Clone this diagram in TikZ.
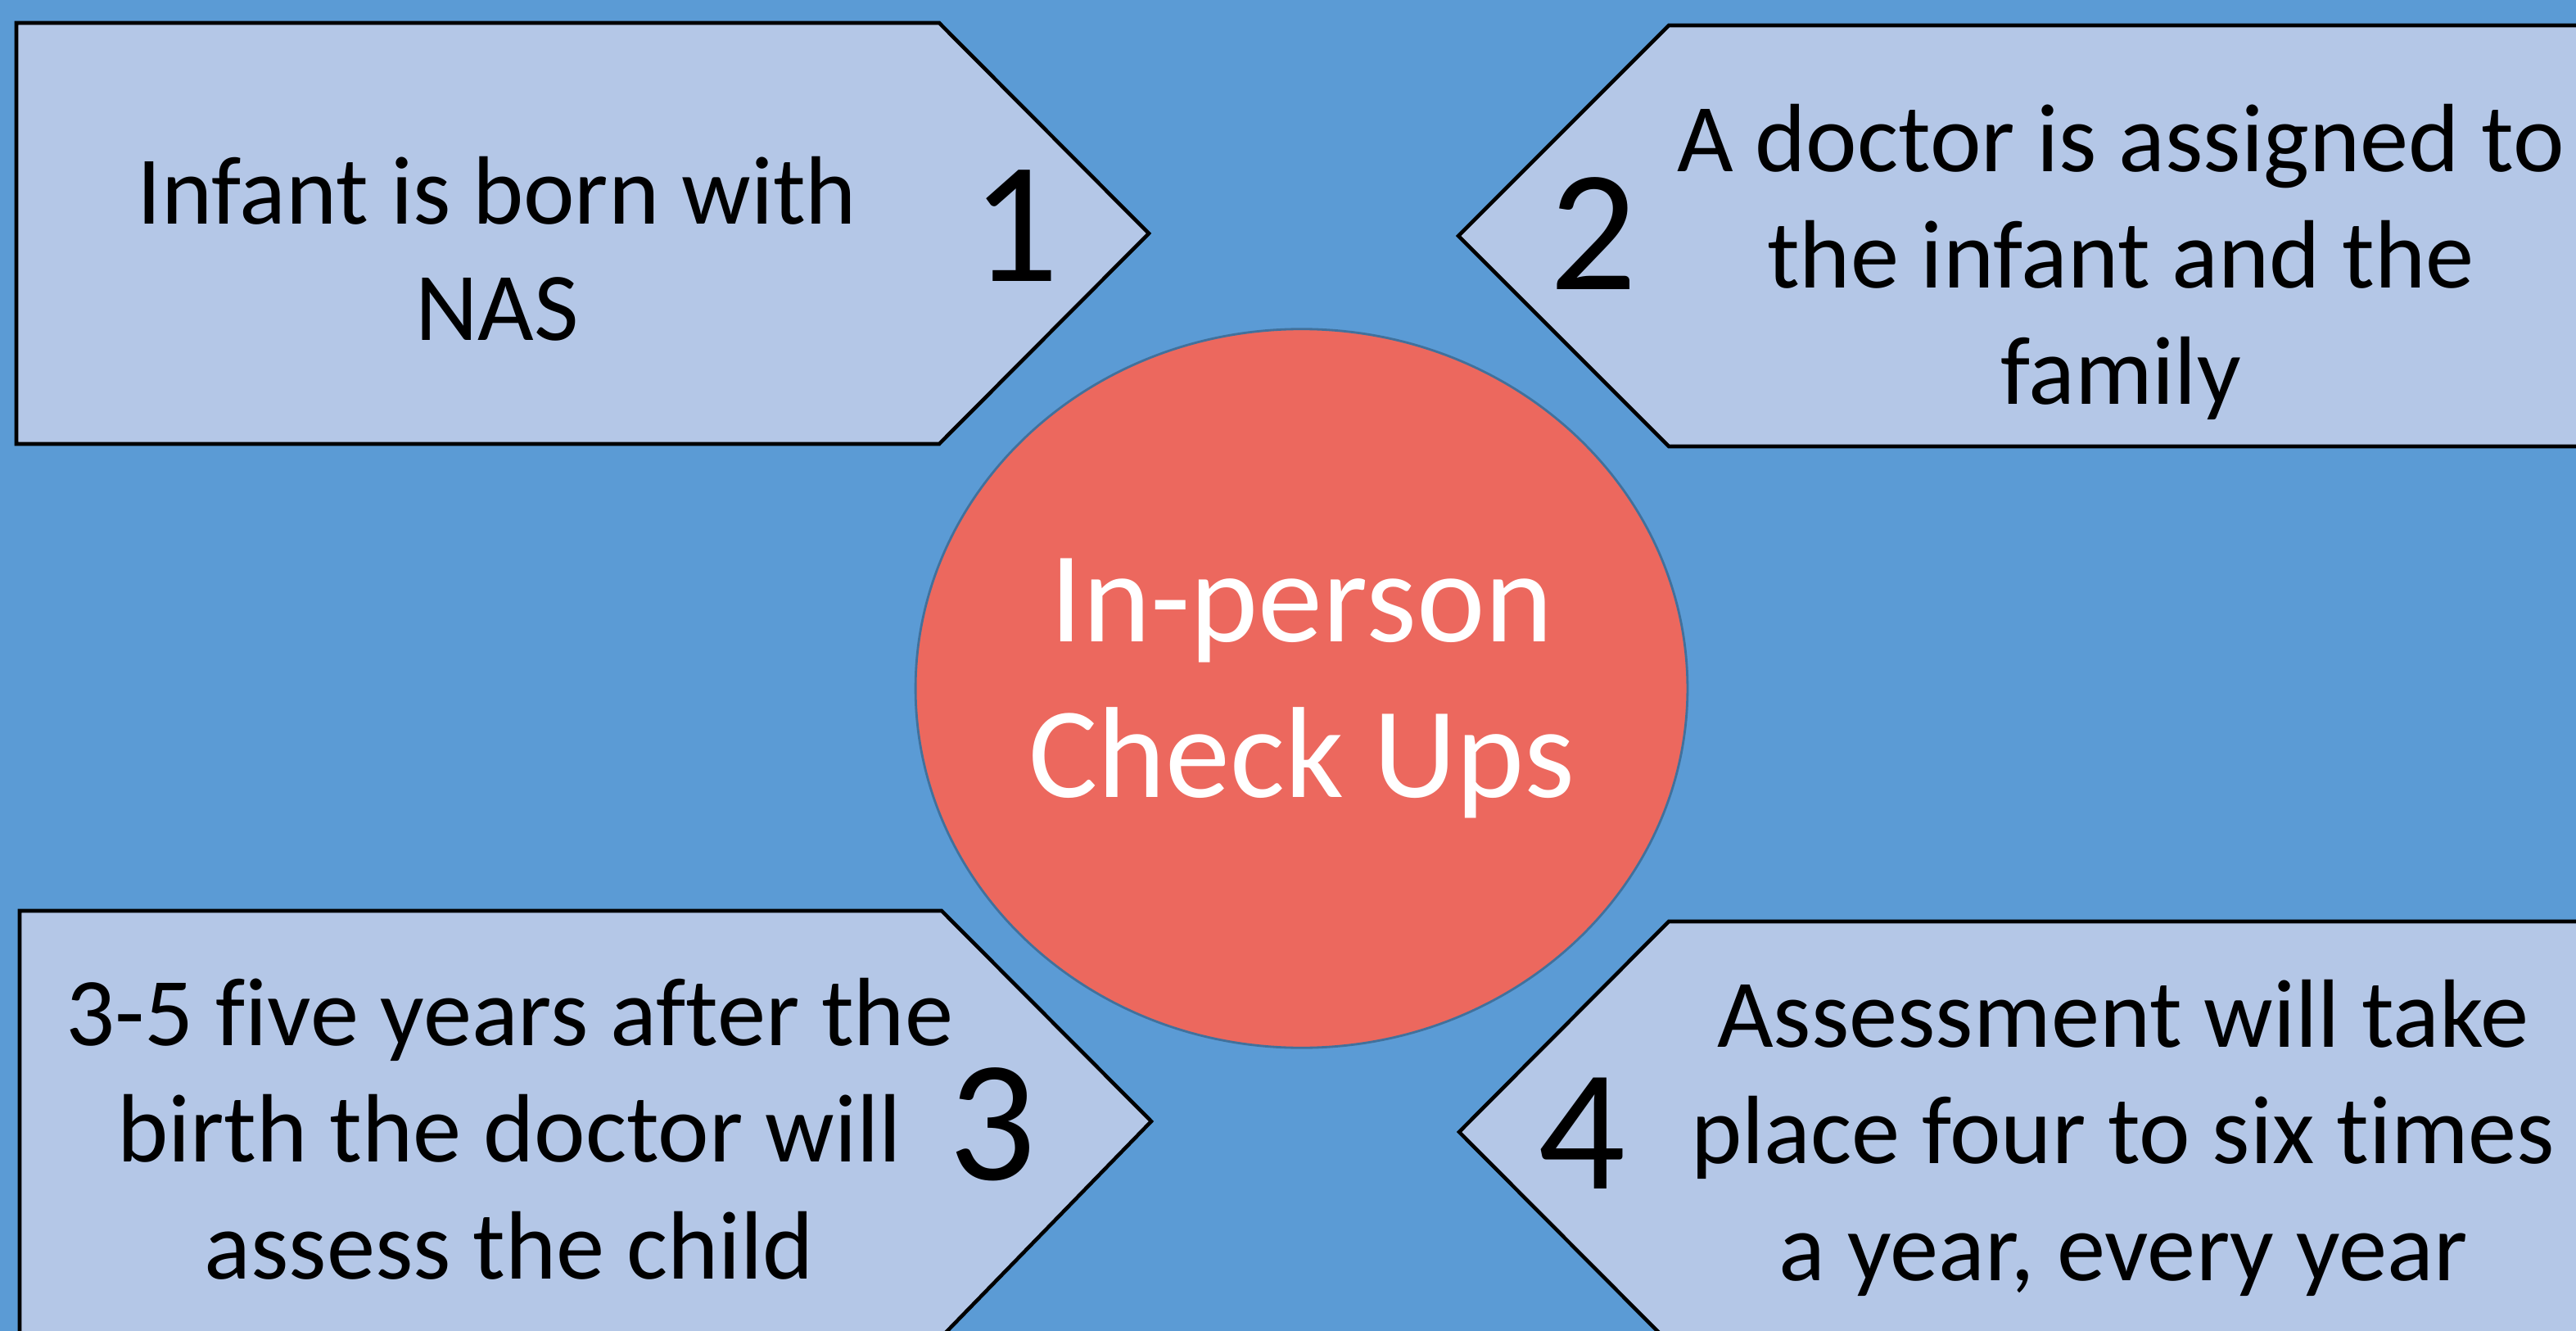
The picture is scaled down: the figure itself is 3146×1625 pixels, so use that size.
\documentclass[tikz,border=0pt]{standalone}
\usepackage{fontspec}
\setmainfont{Carlito}[Ligatures=CommonOff]
\usetikzlibrary{shapes.geometric}
\definecolor{slidebg}{HTML}{5B9BD5}
\definecolor{stepfill}{HTML}{B4C7E7}
\definecolor{hubfill}{HTML}{EC685E}
\definecolor{hubborder}{HTML}{41719C}
\tikzset{
  stepshape/.style={fill=stepfill, draw=black, line width=1.3pt, miter limit=10},
  steptext/.style={font=\fontsize{33.7}{40.5}\selectfont, align=center, anchor=base,
                   inner sep=0pt},
  stepnum/.style={font=\fontsize{60}{72}\selectfont, anchor=base, inner sep=0pt},
  hub/.style={ellipse, fill=hubfill, draw=hubborder, line width=0.8pt,
              minimum width=9.31cm, minimum height=8.77cm, inner sep=0pt,
              align=center, text=white, font=\fontsize{45}{54}\selectfont},
}

\begin{document}
\begin{tikzpicture}[x=0.01cm, y=-0.01cm]

% Slide background
\clip (0,0) rectangle (3146,1625);
\fill[slidebg] (0,0) rectangle (3146,1625);

% Step 1 (top left, points right); text nodes sit on their last baseline
\draw[stepshape] (20,28) -- (1147,28) -- (1403,285) -- (1147,542) -- (20,542) -- cycle;
\node[steptext] (born) at (607,416) {Infant is born with\\NAS};
\node[stepnum] (n1) at (1240,344) {1};

% Step 2 (top right, points left)
\draw[stepshape] (3170,31) -- (2038,31) -- (1781,288) -- (2038,545) -- (3170,545) -- cycle;
\node[steptext] (assign) at (2590,494) {A doctor is assigned to\\the infant and the\\family};
\node[stepnum] (n2) at (1946,354) {2};

% Step 3 (bottom left, points right)
\draw[stepshape] (24,1112) -- (1150,1112) -- (1406,1369) -- (1150,1632) -- (24,1632) -- cycle;
\node[steptext] (assess) at (622,1561) {3-5 five years after the\\birth the doctor will\\assess the child};
\node[stepnum] (n3) at (1212,1440) {3};

% Step 4 (bottom right, points left)
\draw[stepshape] (3170,1125) -- (2038,1125) -- (1782,1382) -- (2038,1639) -- (3170,1639) -- cycle;
\node[steptext] (visits) at (2593,1563) {Assessment will take\\place four to six times\\a year, every year};
\node[stepnum] (n4) at (1932,1451) {4};

% Hub in the middle
\node[hub] (checkups) at (1589.5,840.5) {In-person\\Check Ups};

\end{tikzpicture}
\end{document}
